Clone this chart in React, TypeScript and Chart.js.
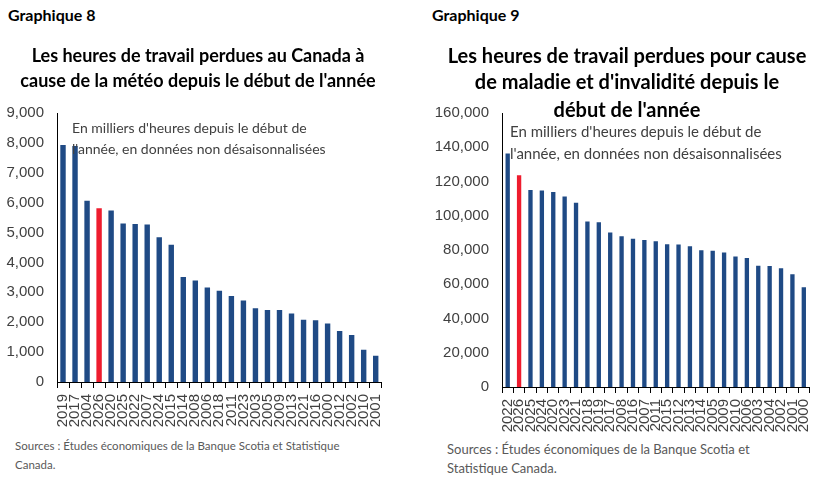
import React, { useEffect, useRef } from "react";
import { Chart, registerables } from "chart.js";

Chart.register(...registerables);

// Graphique 8 — heures perdues à cause de la météo (milliers d'heures)
const WEATHER_YEARS = [
  "2019", "2017", "2004", "2026", "2020", "2025", "2022", "2007", "2024",
  "2015", "2014", "2008", "2006", "2018", "2011", "2023", "2003", "2005",
  "2009", "2013", "2021", "2016", "2000", "2012", "2002", "2010", "2001",
];
const WEATHER_HOURS = [
  7930, 7900, 6060, 5810, 5740, 5300, 5290, 5270, 4840,
  4590, 3510, 3400, 3160, 3050, 2880, 2730, 2470, 2410,
  2410, 2290, 2080, 2070, 1960, 1710, 1570, 1080, 880,
];
const WEATHER_MAX = 9000;
const WEATHER_STEP = 1000;

// Graphique 9 — heures perdues pour cause de maladie et d'invalidité
const ILLNESS_YEARS = [
  "2022", "2026", "2025", "2024", "2020", "2023", "2021", "2018", "2019",
  "2017", "2008", "2016", "2007", "2011", "2015", "2012", "2013", "2014",
  "2005", "2009", "2010", "2006", "2003", "2004", "2002", "2001", "2000",
];
const ILLNESS_HOURS = [
  136300, 123700, 115000, 114800, 113800, 111300, 107600, 96600, 96200,
  90200, 88100, 86500, 85900, 85100, 83400, 83200, 82200, 79900,
  79500, 78500, 76200, 75400, 70800, 70600, 69400, 65900, 58200,
];
const ILLNESS_MAX = 160000;
const ILLNESS_STEP = 20000;

const CURRENT_YEAR = "2026";

const BLUE = "#1f4a85";
const RED = "#ee1c2e";
const TICK_COLOR = "#404040";
const TEXT_FONT = "Lato, 'Open Sans', sans-serif";
const TICK_FONT = "'Liberation Sans', Arial, sans-serif";

type PanelProps = {
  left: number;
  top: number;
  width: number;
  height: number;
  labels: string[];
  values: number[];
  max: number;
  step: number;
  axisWidth: number;
  padRight: number;
  padTop: number;
  xAxisHeight: number;
  barPct: number;
};

function BarPanel(p: PanelProps) {
  const ref = useRef<HTMLCanvasElement | null>(null);

  useEffect(() => {
    if (!ref.current) return;
    const chart = new Chart(ref.current, {
      type: "bar",
      data: {
        labels: p.labels,
        datasets: [
          {
            data: p.values,
            backgroundColor: p.labels.map((y) => (y === CURRENT_YEAR ? RED : BLUE)),
            barPercentage: p.barPct,
            categoryPercentage: 1,
          },
        ],
      },
      options: {
        animation: false,
        responsive: false,
        devicePixelRatio: 1,
        layout: {
          padding: { left: 0, right: p.padRight, top: p.padTop, bottom: 0 },
        },
        plugins: { legend: { display: false }, tooltip: { enabled: false } },
        scales: {
          x: {
            grid: {
              display: true,
              drawOnChartArea: false,
              drawTicks: true,
              tickLength: 6,
              color: "#000",
              offset: true,
            },
            border: { display: true, color: "#000", width: 1 },
            ticks: {
              autoSkip: false,
              minRotation: 90,
              maxRotation: 90,
              padding: 6,
              color: TICK_COLOR,
              font: { family: TICK_FONT, size: 15 },
            },
            afterFit: (s: any) => {
              s.height = p.xAxisHeight;
            },
          },
          y: {
            min: 0,
            max: p.max,
            grid: { display: false, drawTicks: false },
            border: { display: true, color: "#000", width: 1 },
            ticks: {
              stepSize: p.step,
              padding: 13,
              color: TICK_COLOR,
              font: { family: TICK_FONT, size: 15 },
              callback: (v: any) => Number(v).toLocaleString("en-US"),
            },
            afterFit: (s: any) => {
              s.width = p.axisWidth;
            },
          },
        },
      },
    });
    return () => chart.destroy();
  }, []);

  return (
    <canvas
      ref={ref}
      width={p.width}
      height={p.height}
      style={{ position: "absolute", left: p.left, top: p.top, width: p.width, height: p.height }}
    />
  );
}

const abs = (left: number, top: number, extra: React.CSSProperties = {}): React.CSSProperties => ({
  position: "absolute",
  left,
  top,
  whiteSpace: "nowrap",
  fontFamily: TEXT_FONT,
  ...extra,
});

export default function App() {
  return (
    <div
      style={{
        position: "absolute",
        left: 0,
        top: 0,
        width: 828,
        height: 483,
        background: "#fff",
        overflow: "hidden",
      }}
    >
      <BarPanel
        left={0}
        top={91}
        width={400}
        height={344}
        labels={WEATHER_YEARS}
        values={WEATHER_HOURS}
        max={WEATHER_MAX}
        step={WEATHER_STEP}
        axisWidth={57}
        padRight={16}
        padTop={2}
        xAxisHeight={53}
        barPct={0.45}
      />
      <BarPanel
        left={420}
        top={91}
        width={408}
        height={349}
        labels={ILLNESS_YEARS}
        values={ILLNESS_HOURS}
        max={ILLNESS_MAX}
        step={ILLNESS_STEP}
        axisWidth={82}
        padRight={10}
        padTop={2}
        xAxisHeight={53}
        barPct={0.38}
      />

      {/* Graphique 8 */}
      <div style={abs(8, 5, { fontSize: 16, fontWeight: 700, color: "#000" })}>Graphique 8</div>
      <div
        style={abs(0, 43, {
          width: 396,
          textAlign: "center",
          fontSize: 18,
          fontWeight: 700,
          lineHeight: "25px",
          color: "#000",
        })}
      >
        Les heures de travail perdues au Canada à
        <br />
        cause de la météo depuis le début de l'année
      </div>
      <div style={abs(72, 117, { fontSize: 14, lineHeight: "21px", color: "#404040", fontWeight: 400 })}>
        En milliers d'heures depuis le début de
        <br />
        l'année, en données non désaisonnalisées
      </div>
      <div style={abs(15, 436, { fontSize: 11.5, lineHeight: "19px", color: "#595959" })}>
        Sources : Études économiques de la Banque Scotia et Statistique
        <br />
        Canada.
      </div>

      {/* Graphique 9 */}
      <div style={abs(432, 5, { fontSize: 16, fontWeight: 700, color: "#000" })}>Graphique 9</div>
      <div
        style={abs(427, 42, {
          width: 400,
          textAlign: "center",
          fontSize: 20,
          fontWeight: 700,
          lineHeight: "26px",
          color: "#000",
        })}
      >
        Les heures de travail perdues pour cause
        <br />
        de maladie et d'invalidité depuis le
        <div style={{ marginTop: 2 }}>début de l'année</div>
      </div>
      <div style={abs(510, 120, { fontSize: 15, lineHeight: "22px", color: "#404040", fontWeight: 400 })}>
        En milliers d'heures depuis le début de
        <br />
        l'année, en données non désaisonnalisées
      </div>
      <div style={abs(447, 440, { fontSize: 13, lineHeight: "19px", color: "#595959" })}>
        Sources : Études économiques de la Banque Scotia et
        <br />
        Statistique Canada.
      </div>
    </div>
  );
}
